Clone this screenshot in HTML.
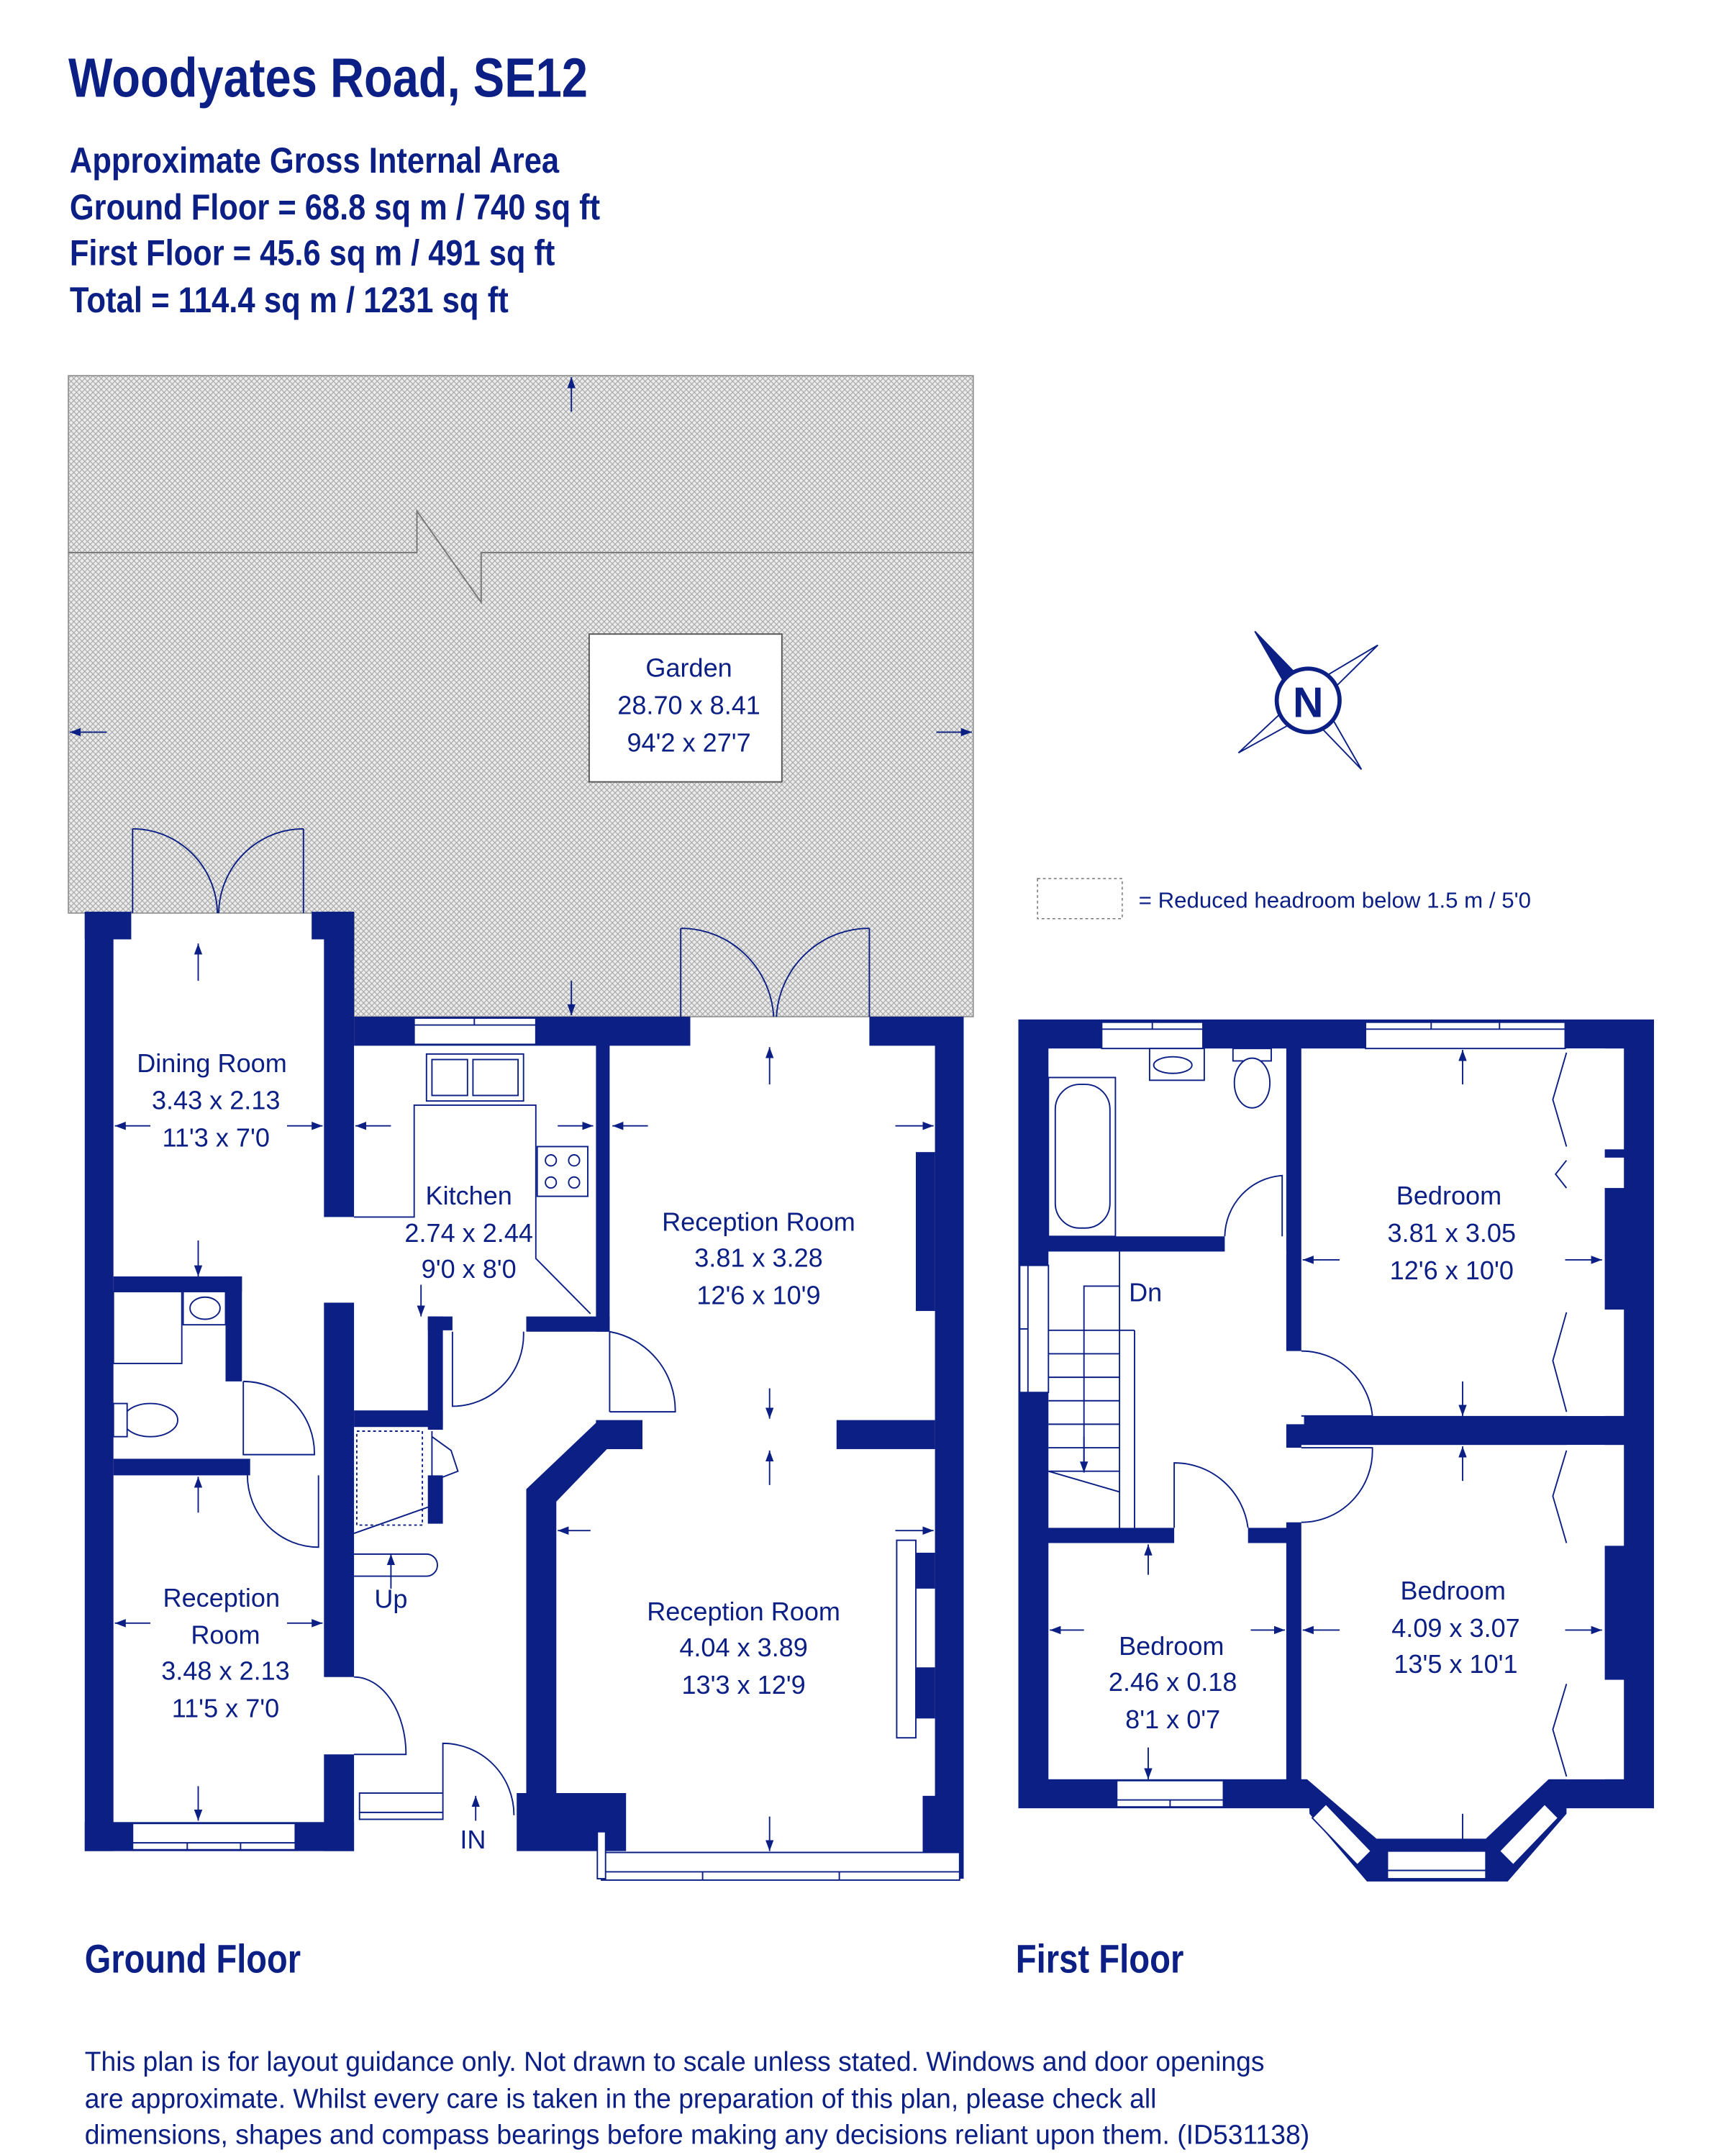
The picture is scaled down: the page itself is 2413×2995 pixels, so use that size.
<!DOCTYPE html>
<html><head><meta charset="utf-8"><style>
html,body{margin:0;padding:0;background:#fff;}
svg{display:block;}
</style></head><body>
<svg width="2413" height="2995" viewBox="0 0 1270 1560" preserveAspectRatio="none" xmlns="http://www.w3.org/2000/svg">
<defs>
<pattern id="h" patternUnits="userSpaceOnUse" width="4" height="4">
<rect width="4" height="4" fill="#ececec"/>
<path d="M0,0L4,4M4,0L0,4" stroke="#a8a8a8" stroke-width="0.6"/>
</pattern>
<marker id="a" markerWidth="8" markerHeight="6" refX="8" refY="3" orient="auto" markerUnits="userSpaceOnUse"><path d="M0,0L8,3L0,6z" fill="#0b1f85"/></marker>
</defs>
<g font-family="'Liberation Sans Narrow','Liberation Sans',sans-serif" font-weight="bold" fill="#0b1f85">
<text x="50" y="70" font-size="40" textLength="380" lengthAdjust="spacingAndGlyphs">Woodyates Road, SE12</text>
<text x="51" y="125" font-size="26" textLength="358" lengthAdjust="spacingAndGlyphs">Approximate Gross Internal Area</text>
<text x="51" y="159" font-size="26" textLength="388" lengthAdjust="spacingAndGlyphs">Ground Floor = 68.8 sq m / 740 sq ft</text>
<text x="51" y="192" font-size="26" textLength="355" lengthAdjust="spacingAndGlyphs">First Floor = 45.6 sq m / 491 sq ft</text>
<text x="51" y="226" font-size="26" textLength="321" lengthAdjust="spacingAndGlyphs">Total = 114.4 sq m / 1231 sq ft</text>
<text x="62" y="1428" font-size="29" textLength="158" lengthAdjust="spacingAndGlyphs">Ground Floor</text>
<text x="743" y="1428" font-size="29" textLength="123" lengthAdjust="spacingAndGlyphs">First Floor</text>
</g>
<g font-family="'Liberation Sans',sans-serif" font-size="20" fill="#0b1f85">
<text x="62" y="1499" textLength="863" lengthAdjust="spacingAndGlyphs">This plan is for layout guidance only. Not drawn to scale unless stated. Windows and door openings</text>
<text x="62" y="1526" textLength="784" lengthAdjust="spacingAndGlyphs">are approximate. Whilst every care is taken in the preparation of this plan, please check all</text>
<text x="62" y="1552" textLength="896" lengthAdjust="spacingAndGlyphs">dimensions, shapes and compass bearings before making any decisions reliant upon them. (ID531138)</text>
</g>

<!-- garden -->
<polygon points="50,272 712,272 712,736 259,736 259,661 50,661" fill="url(#h)" stroke="#888" stroke-width="0.8"/>
<polyline points="50,400 305,400 305,370 352,436 352,400 712,400" fill="none" stroke="#777" stroke-width="1"/>
<g stroke="#0b1f85" stroke-width="1" marker-end="url(#a)">
<line x1="418" y1="298" x2="418" y2="273"/><line x1="418" y1="710" x2="418" y2="735"/>
<line x1="78" y1="530" x2="51" y2="530"/><line x1="685" y1="530" x2="711" y2="530"/>
</g>
<rect x="431" y="459" width="141" height="107" fill="#fff" stroke="#555" stroke-width="1"/>
<g font-family="'Liberation Sans',sans-serif" font-size="19" fill="#0b1f85" text-anchor="middle">
<text x="504" y="490">Garden</text><text x="504" y="517">28.70 x 8.41</text><text x="504" y="544">94'2 x 27'7</text>
</g>

<!-- compass -->
<g>
<polygon points="918,457 957,497 947,507" fill="#0b1f85"/>
<polygon points="918,457 947,507 957,497" fill="#0b1f85" stroke="#0b1f85" stroke-width="1"/>
<polygon points="1008,467 957,497 967,507" fill="#fff" stroke="#0b1f85" stroke-width="1"/>
<polygon points="906,545 947,507 957,517" fill="#fff" stroke="#0b1f85" stroke-width="1"/>
<polygon points="996,557 967,507 957,517" fill="#fff" stroke="#0b1f85" stroke-width="1"/>
<circle cx="957" cy="507" r="23" fill="#fff" stroke="#0b1f85" stroke-width="3"/>
<text x="957" y="519" font-family="'Liberation Sans',sans-serif" font-weight="bold" font-size="31" fill="#0b1f85" text-anchor="middle">N</text>
</g>
<rect x="759" y="636" width="62" height="29" fill="#fff" stroke="#777" stroke-width="0.8" stroke-dasharray="2,2"/>
<text x="833" y="657" font-family="'Liberation Sans',sans-serif" font-size="16" fill="#0b1f85" textLength="287" lengthAdjust="spacingAndGlyphs">=  Reduced headroom below 1.5 m / 5'0</text>

<!-- GROUND FLOOR -->
<g fill="#fff" stroke="#0b1f85" stroke-width="1">
<!-- french doors -->
<line x1="97" y1="661" x2="97" y2="600"/><line x1="222" y1="661" x2="222" y2="600"/>
<path d="M97,600 A62,62 0 0 1 159,661" fill="none"/><path d="M222,600 A62,62 0 0 0 160,661" fill="none"/>
<line x1="498" y1="736" x2="498" y2="672"/><line x1="636" y1="736" x2="636" y2="672"/>
<path d="M498,672 A68,68 0 0 1 566,736" fill="none"/><path d="M636,672 A68,68 0 0 0 568,736" fill="none"/>
</g>
<g fill="#0b1f85">
<rect x="62" y="660" width="21" height="680"/>
<rect x="62" y="660" width="34" height="20"/>
<rect x="228" y="660" width="31" height="20"/>
<rect x="237" y="660" width="22" height="221"/>
<rect x="259" y="736" width="246" height="21"/>
<rect x="636" y="736" width="69" height="21"/>
<rect x="684" y="736" width="21" height="624"/>
<rect x="670" y="834" width="14" height="115"/>
<rect x="612" y="1028" width="72" height="21"/>
<rect x="670" y="1124" width="14" height="26"/>
<rect x="670" y="1207" width="14" height="37"/>
<rect x="675" y="1300" width="30" height="60"/>
<rect x="436" y="756" width="10" height="208"/>
<rect x="385" y="953" width="61" height="11"/>
<polygon points="436,1028 470,1028 470,1049 444,1049 407,1087 407,1298 458,1298 458,1340 378,1340 378,1298 385,1298 385,1078 436,1030"/>
<rect x="313" y="953" width="11" height="82"/>
<rect x="313" y="953" width="18" height="10"/>
<rect x="259" y="1021" width="65" height="12"/>
<rect x="313" y="1068" width="11" height="35"/>
<rect x="237" y="943" width="22" height="271"/>
<rect x="237" y="1270" width="22" height="70"/>
<rect x="62" y="1319" width="197" height="21"/>
<rect x="83" y="924" width="94" height="11"/>
<rect x="165" y="924" width="12" height="76"/>
<rect x="83" y="1056" width="100" height="12"/>
</g>
<g fill="#fff" stroke="#0b1f85" stroke-width="1">
<!-- windows -->
<rect x="303" y="737" width="89" height="19"/><line x1="303" y1="742" x2="392" y2="742"/><line x1="347" y1="737" x2="347" y2="742"/>
<rect x="97" y="1320" width="119" height="19"/><line x1="97" y1="1334" x2="216" y2="1334"/><line x1="137" y1="1334" x2="137" y2="1339"/><line x1="176" y1="1334" x2="176" y2="1339"/>
<rect x="263" y="1298" width="61" height="19"/><line x1="263" y1="1312" x2="324" y2="1312"/>
<rect x="440" y="1341" width="262" height="20"/><line x1="440" y1="1355" x2="702" y2="1355"/><line x1="514" y1="1355" x2="514" y2="1361"/><line x1="614" y1="1355" x2="614" y2="1361"/>
<rect x="437" y="1326" width="6" height="34"/>
<line x1="458" y1="1341" x2="684" y2="1341"/>
<!-- fireplace -->
<rect x="656" y="1115" width="14" height="143"/>
<!-- kitchen counter -->
<polyline points="259,881 303,881 303,800 392,800 392,911 432,951" fill="none"/>
<rect x="312" y="763" width="71" height="34"/><rect x="316" y="767" width="26" height="26"/><rect x="346" y="767" width="33" height="26"/>
<rect x="393" y="830" width="37" height="36"/>
<circle cx="403" cy="840" r="4"/><circle cx="420" cy="840" r="4"/><circle cx="403" cy="856" r="4"/><circle cx="420" cy="856" r="4"/>
<!-- doors -->
<path d="M446,964 L446,1022 M446,964 A58,58 0 0 1 494,1022 L446,1022" fill="none"/>
<path d="M331,964 L331,1018 A52,52 0 0 0 383,964" fill="none"/>
<path d="M178,1000 L178,1053 L230,1053 A52,52 0 0 0 178,1000" fill="none"/>
<path d="M181,1068 A52,52 0 0 0 233,1120 L233,1068" fill="none"/>
<path d="M259,1214 A38,56 0 0 1 297,1270 L259,1270" fill="none"/>
<path d="M324,1298 L324,1262 A52,52 0 0 1 376,1314" fill="none"/>
<!-- WC -->
<rect x="83" y="935" width="50" height="52"/><rect x="134" y="935" width="31" height="24"/>
<ellipse cx="150" cy="947" rx="11" ry="8"/>
<ellipse cx="110" cy="1028" rx="20" ry="12"/><rect x="83" y="1016" width="10" height="24"/>
<!-- stairs stuff -->
<rect x="261" y="1036" width="48" height="68" stroke-dasharray="2,2"/>
<polyline points="259,1110 316,1090 316,1036" fill="none"/>
<path d="M259,1125 L312,1125 A8,8 0 0 1 312,1141 L259,1141" fill="none"/>
<polyline points="316,1040 330,1050 335,1065 322,1070" fill="none"/>
</g>
<!-- dimension arrows ground -->
<g stroke="#0b1f85" stroke-width="1" marker-end="url(#a)">
<line x1="145" y1="710" x2="145" y2="683"/><line x1="145" y1="898" x2="145" y2="924"/>
<line x1="110" y1="815" x2="84" y2="815"/><line x1="210" y1="815" x2="236" y2="815"/>
<line x1="286" y1="815" x2="260" y2="815"/><line x1="408" y1="815" x2="434" y2="815"/>
<line x1="308" y1="930" x2="308" y2="953"/>
<line x1="474" y1="815" x2="448" y2="815"/><line x1="655" y1="815" x2="683" y2="815"/>
<line x1="563" y1="785" x2="563" y2="758"/><line x1="563" y1="1005" x2="563" y2="1027"/>
<line x1="563" y1="1075" x2="563" y2="1050"/><line x1="563" y1="1315" x2="563" y2="1340"/>
<line x1="432" y1="1108" x2="408" y2="1108"/><line x1="655" y1="1108" x2="683" y2="1108"/>
<line x1="145" y1="1095" x2="145" y2="1069"/><line x1="145" y1="1293" x2="145" y2="1318"/>
<line x1="110" y1="1175" x2="84" y2="1175"/><line x1="210" y1="1175" x2="236" y2="1175"/>
<line x1="286" y1="1150" x2="286" y2="1125"/>
<line x1="348" y1="1318" x2="348" y2="1300"/>
</g>
<g font-family="'Liberation Sans',sans-serif" font-size="19" fill="#0b1f85" text-anchor="middle">
<text x="155" y="776">Dining Room</text><text x="158" y="803">3.43 x 2.13</text><text x="158" y="830">11'3 x 7'0</text>
<text x="343" y="872">Kitchen</text><text x="343" y="899">2.74 x 2.44</text><text x="343" y="925">9'0 x 8'0</text>
<text x="555" y="891">Reception Room</text><text x="555" y="917">3.81 x 3.28</text><text x="555" y="944">12'6 x 10'9</text>
<text x="544" y="1173">Reception Room</text><text x="544" y="1199">4.04 x 3.89</text><text x="544" y="1226">13'3 x 12'9</text>
<text x="162" y="1163">Reception</text><text x="165" y="1190">Room</text><text x="165" y="1216">3.48 x 2.13</text><text x="165" y="1243">11'5 x 7'0</text>
<text x="286" y="1164">Up</text><text x="346" y="1338">IN</text>
</g>

<!-- FIRST FLOOR -->
<g fill="#0b1f85">
<rect x="745" y="738" width="465" height="571"/>
<polygon points="957,1288 1146,1288 1146,1313 1103,1362 1000,1362 958,1313"/>
</g>
<g fill="#fff">
<rect x="767" y="759" width="174" height="136"/>
<rect x="767" y="906" width="174" height="200"/>
<rect x="896" y="893" width="45" height="15"/>
<rect x="939" y="978" width="15" height="53"/>
<rect x="939" y="1048" width="15" height="54"/>
<rect x="859" y="1104" width="54" height="15"/>
<rect x="952" y="759" width="222" height="266"/>
<rect x="1146" y="759" width="42" height="73"/>
<rect x="1146" y="838" width="42" height="22"/>
<rect x="1146" y="948" width="42" height="77"/>
<rect x="952" y="1046" width="222" height="242"/>
<rect x="1146" y="1046" width="42" height="73"/>
<rect x="1146" y="1216" width="42" height="72"/>
<rect x="767" y="1117" width="174" height="171"/>
<polygon points="955,1287 1134,1287 1087,1331 1007,1331"/>
</g>
<g fill="#fff" stroke="#0b1f85" stroke-width="1">
<rect x="806" y="740" width="74" height="19"/><line x1="806" y1="745" x2="880" y2="745"/><line x1="843" y1="740" x2="843" y2="745"/>
<rect x="999" y="740" width="146" height="19"/><line x1="999" y1="745" x2="1145" y2="745"/><line x1="1047" y1="740" x2="1047" y2="745"/><line x1="1097" y1="740" x2="1097" y2="745"/>
<rect x="817" y="1289" width="78" height="19"/><line x1="817" y1="1303" x2="895" y2="1303"/><line x1="856" y1="1303" x2="856" y2="1308"/>
<rect x="746" y="916" width="21" height="92"/><line x1="752" y1="916" x2="752" y2="1008"/><line x1="746" y1="962" x2="752" y2="962"/>
<rect x="1015" y="1340" width="72" height="20"/><line x1="1015" y1="1354" x2="1087" y2="1354"/>
<polygon points="960,1316 970,1306 1003,1340 993,1350"/>
<polygon points="1140,1316 1130,1306 1097,1340 1107,1350"/>
<!-- bath -->
<rect x="767" y="780" width="49" height="115"/><rect x="772" y="785" width="40" height="104" rx="18"/>
<rect x="841" y="759" width="40" height="23"/><ellipse cx="858" cy="771" rx="14" ry="6"/>
<rect x="902" y="759" width="28" height="9"/><ellipse cx="916" cy="784" rx="13" ry="18"/>
<!-- doors -->
<path d="M896,895 A45,45 0 0 1 938,851 L938,895" fill="none"/>
<path d="M952,978 A52,52 0 0 1 1004,1025 L952,1025" fill="none"/>
<path d="M952,1102 A52,52 0 0 0 1004,1048 L952,1048" fill="none"/>
<path d="M859,1106 L859,1059 A54,54 0 0 1 913,1106" fill="none"/>
<!-- stairs -->
<line x1="819" y1="906" x2="819" y2="1110"/><line x1="830" y1="963" x2="830" y2="1110"/><line x1="767" y1="963" x2="830" y2="963"/>
<line x1="767" y1="980" x2="819" y2="980"/><line x1="767" y1="997" x2="819" y2="997"/><line x1="767" y1="1014" x2="819" y2="1014"/><line x1="767" y1="1031" x2="819" y2="1031"/><line x1="767" y1="1048" x2="819" y2="1048"/><line x1="767" y1="1065" x2="819" y2="1065"/>
<line x1="767" y1="1065" x2="819" y2="1080"/>
<polyline points="819,931 793,931 793,1060" fill="none"/>
<!-- closets -->
<polyline points="1146,762 1136,796 1146,830" fill="none"/><polyline points="1146,840 1138,850 1146,860" fill="none"/>
<polyline points="1146,950 1136,985 1146,1022" fill="none"/><polyline points="1146,1050 1136,1083 1146,1117" fill="none"/>
<polyline points="1146,1219 1136,1252 1146,1286" fill="none"/>
</g>
<g stroke="#0b1f85" stroke-width="1" marker-end="url(#a)">
<line x1="793" y1="1040" x2="793" y2="1066"/>
<line x1="1070" y1="785" x2="1070" y2="760"/><line x1="1070" y1="1000" x2="1070" y2="1025"/>
<line x1="980" y1="912" x2="953" y2="912"/><line x1="1145" y1="912" x2="1172" y2="912"/>
<line x1="1070" y1="1072" x2="1070" y2="1047"/><line x1="1070" y1="1313" x2="1070" y2="1340"/>
<line x1="980" y1="1180" x2="953" y2="1180"/><line x1="1145" y1="1180" x2="1172" y2="1180"/>
<line x1="840" y1="1140" x2="840" y2="1118"/><line x1="840" y1="1265" x2="840" y2="1288"/>
<line x1="793" y1="1180" x2="768" y2="1180"/><line x1="915" y1="1180" x2="940" y2="1180"/>
</g>
<g font-family="'Liberation Sans',sans-serif" font-size="19" fill="#0b1f85" text-anchor="middle">
<text x="838" y="942">Dn</text>
<text x="1060" y="872">Bedroom</text><text x="1062" y="899">3.81 x 3.05</text><text x="1062" y="926">12'6 x 10'0</text>
<text x="1063" y="1158">Bedroom</text><text x="1065" y="1185">4.09 x 3.07</text><text x="1065" y="1211">13'5 x 10'1</text>
<text x="857" y="1198">Bedroom</text><text x="858" y="1224">2.46 x 0.18</text><text x="858" y="1251">8'1 x 0'7</text>
</g>
</svg>
</body></html>
